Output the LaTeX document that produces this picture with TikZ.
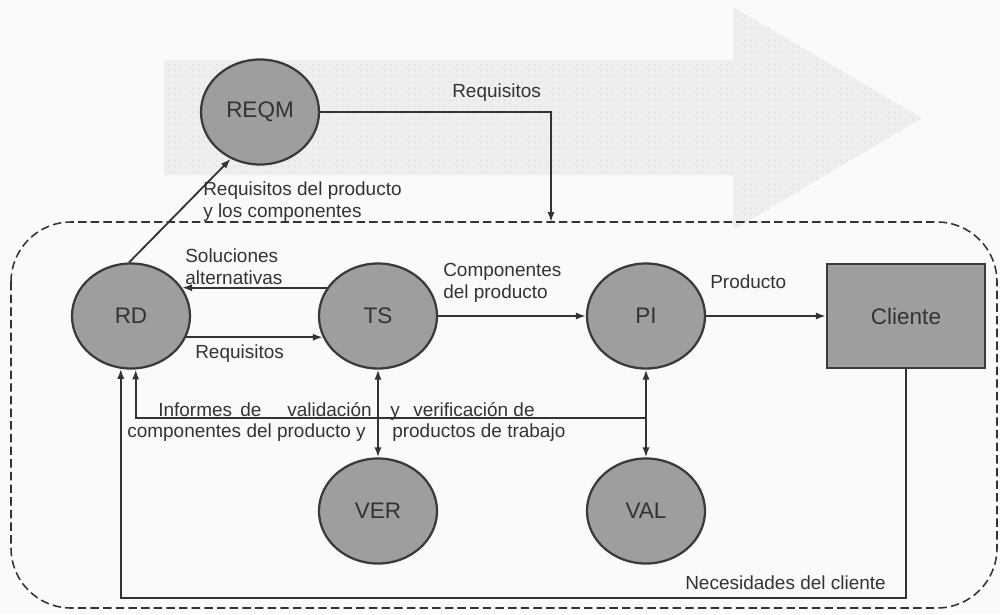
\documentclass[tikz,border=0pt]{standalone}
\usepackage{fontspec}
\setmainfont{Liberation Sans}
\usetikzlibrary{arrows.meta,shapes.geometric,patterns.meta}
\definecolor{procfill}{HTML}{9E9E9E}
\definecolor{procline}{HTML}{3A3A3A}
\definecolor{ink}{HTML}{333333}
\definecolor{flowfill}{HTML}{EEEEEE}
\definecolor{flowdot}{HTML}{D4D4D4}
\definecolor{paper}{HTML}{FAFAFA}

\begin{document}
\begin{tikzpicture}[x=0.025cm,y=-0.025cm,
  proc/.style={ellipse,draw=procline,line width=1.6pt,fill=procfill,
    minimum width=2.95cm,minimum height=2.625cm,inner sep=0pt,
    font=\fontsize{16}{19}\selectfont,text=ink},
  actor/.style={rectangle,draw=procline,line width=1.6pt,fill=procfill,
    minimum width=3.95cm,minimum height=2.6cm,inner sep=0pt,
    font=\fontsize{16}{19}\selectfont,text=ink},
  tip/.tip={Latex[length=0.25cm,width=0.18cm]},
  flow/.style={draw=ink,line width=1.3pt,-tip},
  biflow/.style={draw=ink,line width=1.3pt,tip-tip},
  lbl/.style={font=\fontsize{13.5}{15.6}\selectfont,text=ink,inner sep=0pt,align=left,anchor=west},
  word/.style={lbl,anchor=base west}
]
% page
\path[fill=paper] (0,0) rectangle (1000,614);
\useasboundingbox (0,0) rectangle (1000,614);

% broad process arrow in the background
\path[fill=flowfill] (164,60) -- (733,60) -- (733,7) -- (922,118) -- (733,230) -- (733,175) -- (164,175) -- cycle;
\path[pattern={Dots[distance=4pt,radius=0.45pt]},pattern color=flowdot]
  (164,60) -- (733,60) -- (733,7) -- (922,118) -- (733,230) -- (733,175) -- (164,175) -- cycle;

% engineering boundary
\draw[ink,line width=1.1pt,dash pattern=on 6pt off 3pt,rounded corners=1.5cm] (11,222) rectangle (997,608);

% process areas
\node[proc] (REQM) at (260,112) {REQM};
\node[proc] (RD) at (131,316) {RD};
\node[proc] (TS) at (378,316) {TS};
\node[proc] (PI) at (646,316) {PI};
\node[actor] (CL) at (906,316) {Cliente};
\node[proc] (VER) at (378,511) {VER};
\node[proc] (VAL) at (646,511) {VAL};

% helper points
\coordinate (reqin) at (551,222);
\coordinate (inf) at (646,418);
\coordinate (needs) at (500,598);

% flows
\draw[flow] (REQM.east) -| (reqin);
\draw[flow] (RD.92) -- (REQM.238);
\draw[flow] (TS.151) -- (RD.29);
\draw[flow] (RD.-21) -- (TS.201);
\draw[flow] (TS.east) -- (PI.west);
\draw[flow] (PI.east) -- (CL.west);
\draw[biflow] (TS.south) -- (VER.north);
\draw[biflow] (PI.south) -- (VAL.north);
\draw[flow] (inf) -| (RD.275);
\draw[flow] (CL.south) |- (needs) -| (RD.259);

% labels
\node[lbl] (lreq) at (452,93) {Requisitos};
\node[lbl] (lprod) at (203,202) {Requisitos del producto\\y los componentes};
\node[lbl] (lsol) at (185,267) {Soluciones\\alternativas};
\node[lbl] (lreq2) at (195,354) {Requisitos};
\node[lbl] (lcomp) at (443,283) {Componentes\\del producto};
\node[lbl] (lpr) at (710,282) {Producto};
\node[word] (li1) at (158,416) {Informes};
\node[word] (li2) at (240,416) {de};
\node[word] (li3) at (287,416) {validación};
\node[word] (li4) at (390,416) {y};
\node[word] (li5) at (413,416) {verificación de};
\node[word] (li6) at (127,437) {componentes del producto y};
\node[word] (li7) at (392,437) {productos de trabajo};
\node[lbl] (lnec) at (685,583) {Necesidades del cliente};
\end{tikzpicture}
\end{document}
